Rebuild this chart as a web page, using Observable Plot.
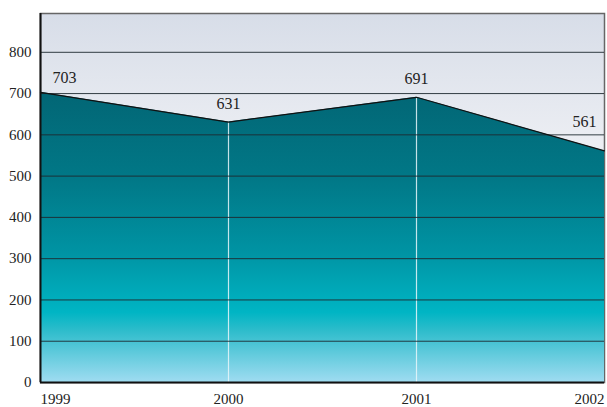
<!DOCTYPE html>
<html>
<head>
<meta charset="utf-8">
<script src="https://cdn.jsdelivr.net/npm/d3@7"></script>
<script src="https://cdn.jsdelivr.net/npm/@observablehq/plot@0.6"></script>
<style>
  html, body { margin: 0; padding: 0; background: #ffffff; }
  #chart svg { display: block; }
  #chart svg text { fill: #222; }
</style>
</head>
<body>
<div id="chart"></div>
<script>
// Yearly totals
const years = [1999, 2000, 2001, 2002];
const totals = [703, 631, 691, 561];
const yTicks = [0, 100, 200, 300, 400, 500, 600, 700, 800];

const rows = years.map((year, i) => ({year, total: totals[i]}));
const inner = rows.filter((d) => d.year !== years[0] && d.year !== years[years.length - 1]);

// Gradient definitions shared by the frame and the area
function gradients() {
  const svgNS = "http://www.w3.org/2000/svg";
  const defs = document.createElementNS(svgNS, "defs");
  defs.innerHTML = `
    <linearGradient id="bgFill" x1="0" y1="0" x2="0" y2="1">
      <stop offset="0" stop-color="#d7dde8"/>
      <stop offset="0.35" stop-color="#eceef3"/>
      <stop offset="1" stop-color="#f4f5f8"/>
    </linearGradient>
    <linearGradient id="areaFill" x1="0" y1="0" x2="0" y2="1">
      <stop offset="0" stop-color="#026675"/>
      <stop offset="0.3" stop-color="#017887"/>
      <stop offset="0.55" stop-color="#0093a3"/>
      <stop offset="0.76" stop-color="#00b5c4"/>
      <stop offset="0.82" stop-color="#2cbccb"/>
      <stop offset="1" stop-color="#9fdcf1"/>
    </linearGradient>`;
  return defs;
}

const font = "Liberation Serif, DejaVu Serif, serif";

const chart = Plot.plot({
  width: 607,
  height: 407,
  marginLeft: 40,
  marginRight: 3,
  marginTop: 13,
  marginBottom: 25,
  style: {background: "#ffffff", fontFamily: font},
  x: {domain: [years[0], years[years.length - 1]], axis: null},
  y: {domain: [0, 894], axis: null},
  marks: [
    gradients,
    Plot.frame({fill: "url(#bgFill)", stroke: "#666", strokeWidth: 1.5}),
    Plot.areaY(rows, {x: "year", y: "total", fill: "url(#areaFill)"}),
    Plot.ruleX(inner, {x: "year", y1: 0, y2: "total", stroke: "#e8f6fa", strokeWidth: 1.2, strokeOpacity: 0.85}),
    Plot.gridY(yTicks.filter((t) => t > 0), {stroke: "#1e2a30", strokeOpacity: 0.9, strokeWidth: 1}),
    Plot.lineY(rows, {x: "year", y: "total", stroke: "#111", strokeWidth: 1.2}),
    Plot.ruleY([0], {stroke: "#111", strokeWidth: 2}),
    Plot.ruleX([years[0]], {stroke: "#111", strokeWidth: 2}),
    Plot.axisY({ticks: yTicks, tickSize: 0, tickPadding: 9, fontSize: 15, fontFamily: font, tickFormat: (d) => String(d), label: null}),
    Plot.axisX({ticks: [years[0]], tickSize: 0, tickPadding: 11, fontSize: 15, fontFamily: font, textAnchor: "start", tickFormat: (d) => String(d), label: null}),
    Plot.axisX({ticks: years.slice(1, -1), tickSize: 0, tickPadding: 11, fontSize: 15, fontFamily: font, tickFormat: (d) => String(d), label: null}),
    Plot.axisX({ticks: [years[years.length - 1]], tickSize: 0, tickPadding: 11, fontSize: 15, fontFamily: font, textAnchor: "end", tickFormat: (d) => String(d), label: null}),
    // Value labels
    Plot.text(rows.slice(0, 1), {x: "year", y: "total", text: "total", dx: 12, dy: -14, textAnchor: "start", fontSize: 16, fontFamily: font}),
    Plot.text(inner, {x: "year", y: "total", text: "total", dy: -18, fontSize: 16, fontFamily: font}),
    Plot.text(rows.slice(-1), {x: "year", y: "total", text: "total", dx: -8, dy: -29, textAnchor: "end", fontSize: 16, fontFamily: font})
  ]
});

document.getElementById("chart").append(chart);
</script>
</body>
</html>
